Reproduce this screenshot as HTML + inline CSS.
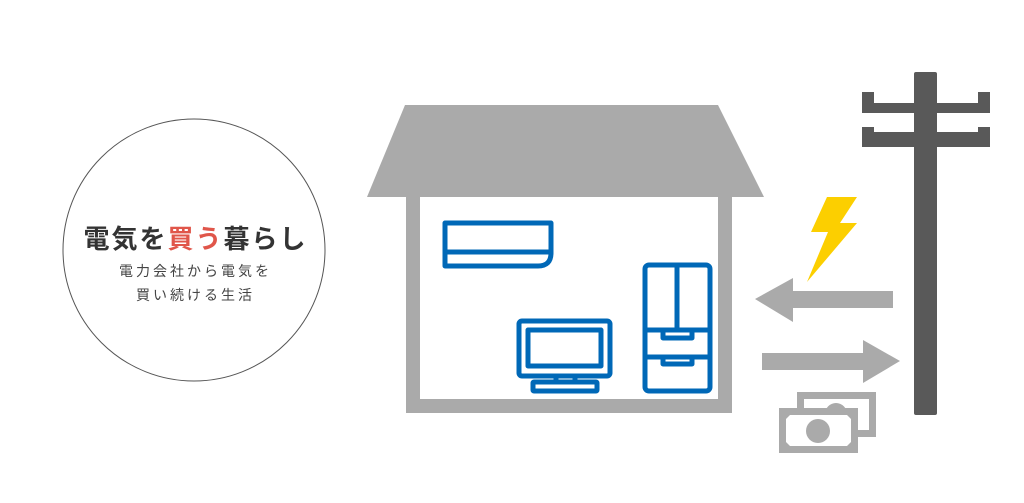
<!DOCTYPE html>
<html><head><meta charset="utf-8"><style>
body{margin:0;width:1024px;height:503px;background:#fff;overflow:hidden;position:relative;font-family:"Liberation Sans","Noto Sans CJK JP",sans-serif}
.t{position:absolute;left:2px;width:387px;text-align:center;color:#333}
</style></head><body>
<svg width="1024" height="503" style="position:absolute;left:0;top:0">
<circle cx="194" cy="250" r="131" fill="none" stroke="#555" stroke-width="1"/>
<polygon points="405,105 718,105 764,197 367,197" fill="#aaa"/>
<path d="M406,197 H732 V413 H406 Z M420,197 V399 H718 V197 Z" fill="#aaa" fill-rule="evenodd"/>
<g fill="none" stroke="#0068b7" stroke-width="5" stroke-linejoin="round">
<path d="M445,223 H551 V253 Q551,266 538,266 H445 Z"/>
<line x1="445" y1="252" x2="551" y2="252"/>
<rect x="519" y="321" width="91" height="55" rx="3"/>
<rect x="528" y="330" width="73" height="36"/>
<rect x="533" y="382" width="64" height="9" rx="1"/>
<line x1="556" y1="377" x2="556" y2="382"/><line x1="575" y1="377" x2="575" y2="382"/>
<rect x="645" y="265" width="65" height="126" rx="4"/>
<line x1="677" y1="265" x2="677" y2="329"/>
<line x1="645" y1="330" x2="710" y2="330"/>
<line x1="645" y1="357" x2="710" y2="357"/>
<path d="M663,330 V338 H692 V330 M663,357 V364 H692 V357"/>
</g>
<rect x="914" y="72" width="23" height="343" rx="2" fill="#595959"/>
<path d="M862,92 H874 V103 H978 V92 H990 V113 H862 Z" fill="#595959"/>
<path d="M862,127 H874 V132 H978 V127 H990 V147 H862 Z" fill="#595959"/>
<polygon points="827,197 857,197 840,223 857,223 807,282 828,232 811,232" fill="#fccf00"/>
<polygon points="755,299 793,278 793,291 893,291 893,308 793,308 793,322" fill="#aaa"/>
<polygon points="762,353 863,353 863,340 900,361 863,383 863,370 762,370" fill="#aaa"/>
<rect x="797" y="392" width="79" height="45" fill="#aaa"/>
<rect x="804" y="399" width="65" height="31" fill="#fff"/>
<circle cx="836" cy="414" r="11" fill="#aaa"/>
<rect x="779" y="408" width="79" height="45" fill="#aaa"/>
<path d="M790,415 H847 L851,419 V442 L847,446 H790 L786,442 V419 Z" fill="#fff"/>
<circle cx="818" cy="431" r="12" fill="#aaa"/>
</svg>
<div class="t" style="top:219px;font-size:26px;font-weight:bold;letter-spacing:2px;color:#333">電気を<span style="color:#e0564a">買う</span>暮らし</div>
<div class="t" style="top:261px;font-size:14px;letter-spacing:3px;color:#444">電力会社から電気を</div>
<div class="t" style="top:285px;font-size:14px;letter-spacing:3px;color:#444">買い続ける生活</div>
</body></html>
